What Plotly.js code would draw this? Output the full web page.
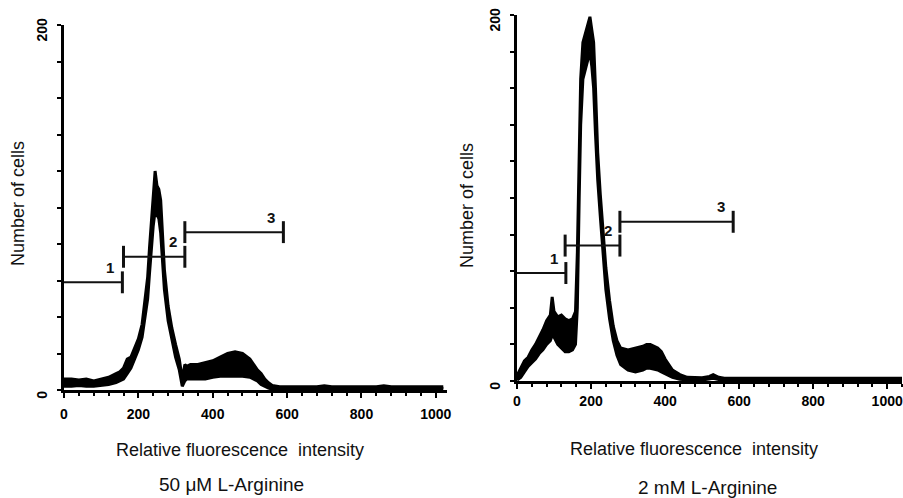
<!DOCTYPE html>
<html>
<head>
<meta charset="utf-8">
<script src="https://cdn.plot.ly/plotly-3.0.1.min.js"></script>
<style>html,body{margin:0;padding:0;background:#fff;}#chart{width:903px;height:498px;}</style>
</head>
<body>
<div id="chart"></div>
<script>
// ---- data: left panel (50 uM L-Arginine); noisy trace read as lower / upper envelope ----
const leftX    = [0,20,40,60,80,100,120,140,150,160,170,180,190,200,210,220,225,230,235,240,245,250,255,260,265,270,280,290,300,310,318,325,330,340,360,380,400,420,440,460,480,500,510,520,530,540,550,560,580,600,620,640,660,680,700,720,740,760,780,800,820,840,860,880,900,920,940,960,980,1000,1020];
const leftLow  = [2,2,2.5,2,2,2.5,3,4,5,6,9,12,17,22,29,42,50,64,80,90,98,96,94,86,70,55,38,27,18,11,2,5,6,6,6,6,7,7.5,7.5,7.5,7.5,7,6,5,3,2,1,0.5,0.5,0.5,0.5,0.5,0.5,0.5,0.8,0.5,0.5,0.5,0.5,0.5,0.5,0.5,0.8,0.5,0.5,0.5,0.5,0.5,0.5,0.5,0.5];
const leftHigh = [6,6,5.5,6,5,6,7,9,10,12,17,18,23,28,36,52,62,78,92,106,120,112,110,104,84,66,46,34,25,17,6,14,13,14,14,15,16,18,20,21,20,17,14,11,9,6,4,2.5,1.8,1.8,2,1.8,1.8,1.8,2.3,1.8,1.8,1.8,1.8,1.8,1.8,1.8,2.3,1.8,1.8,1.8,1.8,1.8,1.8,1.8,1.8];

// ---- data: right panel (2 mM L-Arginine) ----
const rightX    = [0,10,20,30,40,50,60,70,80,90,95,100,110,120,130,140,150,158,163,168,172,178,185,192,197,202,207,212,218,225,232,240,250,260,270,280,300,320,340,350,360,380,390,400,410,420,440,460,500,520,530,545,560,600,640,680,720,760,800,840,880,920,960,1000,1040];
const rightLow  = [0.5,2,5,8,10,12,15,17,20,22,25,24,20,18,16,16,17,20,40,100,140,165,170,175,180,172,160,135,110,90,70,50,34,22,14,9,6,5,6,7,7,6,5,4,3,2,1,0.5,0.5,1,1.5,0.8,0.5,0.5,0.5,0.5,0.5,0.5,0.5,0.5,0.5,0.5,0.5,0.5,0.5];
const rightHigh = [3,7,11,13,17,20,24,28,33,36,46,38,35,36,34,33,34,38,70,130,165,185,190,196,199,192,185,160,125,102,82,62,44,30,22,18,17,18,19,20,20,18,16,12,9,6,3.5,2,1.8,2.5,3.5,2,1.5,1.5,1.5,1.5,1.5,1.5,1.5,1.5,1.5,1.5,1.5,1.5,1.5];

// ---- gate markers ----
const gateLabels = ['1','2','3'];
const leftGateStart = [0,160,325];
const leftGateEnd = [157,325,590];
const leftGateY = [59,73,86.5];
const rightGateStart = [0,130,278];
const rightGateEnd = [132,278,584];
const rightGateY = [59,74,87];
const gateTickHalf = 6;

// ---- axis tick labels ----
const xTickVals = [0,200,400,600,800,1000];
const xTickText = ['0','200','400','600','800','1000'];
const yTickVals = [0,200];
const yTickText = ['0','200'];

const xTitle = 'Relative fluorescence\u00a0 intensity';
const yTitle = 'Number of cells';
const leftCaption = '50 \u03bcM L-Arginine';
const rightCaption = '2 mM L-Arginine';

const FONT = 'Liberation Sans, Arial, Helvetica, sans-serif';

function histTraces(xs, lo, hi, xa, ya) {
  return [
    {x: xs, y: lo, xaxis: xa, yaxis: ya, mode: 'lines', line: {color: '#000', width: 3}, hoverinfo: 'skip', showlegend: false},
    {x: xs, y: hi, xaxis: xa, yaxis: ya, mode: 'lines', fill: 'tonexty', fillcolor: '#000', line: {color: '#000', width: 3}, hoverinfo: 'skip', showlegend: false}
  ];
}

function gateTraces(starts, ends, ys, xa, ya) {
  const hx = [], hy = [], vx = [], vy = [];
  for (let i = 0; i < starts.length; i++) {
    hx.push(starts[i], ends[i], null); hy.push(ys[i], ys[i], null);
    vx.push(ends[i], ends[i], null); vy.push(ys[i]-gateTickHalf, ys[i]+gateTickHalf, null);
    if (starts[i] > 0) { vx.push(starts[i], starts[i], null); vy.push(ys[i]-gateTickHalf, ys[i]+gateTickHalf, null); }
  }
  return [
    {x: hx, y: hy, xaxis: xa, yaxis: ya, mode: 'lines', line: {color: '#111', width: 2}, hoverinfo: 'skip', showlegend: false},
    {x: vx, y: vy, xaxis: xa, yaxis: ya, mode: 'lines', line: {color: '#111', width: 3}, hoverinfo: 'skip', showlegend: false}
  ];
}

function gateAnnots(ends, ys, xr, yr) {
  return ends.map((e, i) => ({
    x: e, y: ys[i], xref: xr, yref: yr, text: gateLabels[i], showarrow: false,
    xanchor: 'center', yanchor: 'middle',
    xshift: -12, yshift: 15, font: {family: FONT, size: 15, color: '#111', weight: 700}
  }));
}

const traces = [
  ...histTraces(leftX, leftLow, leftHigh, 'x', 'y'),
  ...histTraces(rightX, rightLow, rightHigh, 'x2', 'y2'),
  ...gateTraces(leftGateStart, leftGateEnd, leftGateY, 'x', 'y'),
  ...gateTraces(rightGateStart, rightGateEnd, rightGateY, 'x2', 'y2')
];

function xAxis(domain, range, anchor, standoff) {
  return {
    domain: domain, range: range, anchor: anchor,
    showline: true, linewidth: 3, linecolor: '#000', mirror: false,
    showgrid: false, zeroline: false,
    ticks: 'outside', ticklen: 5, tickwidth: 2, tickcolor: '#000',
    tickvals: xTickVals, ticktext: xTickText,
    ticklabelstandoff: standoff,
    tickfont: {family: FONT, size: 14, color: '#000', weight: 700},
    minor: {tickmode: 'linear', tick0: 0, dtick: 40, ticks: 'outside', ticklen: 3, tickwidth: 2, tickcolor: '#000', showgrid: false},
    fixedrange: true
  };
}
function yAxis(domain, anchor) {
  return {
    domain: domain, range: [0, 200], anchor: anchor,
    showline: true, linewidth: 3, linecolor: '#000',
    showgrid: false, zeroline: false,
    ticks: 'outside', ticklen: 4, tickwidth: 2, tickcolor: '#000',
    tickvals: yTickVals, ticktext: yTickText, tickangle: -90,
    ticklabelstandoff: 4, ticklabelshift: 7,
    tickfont: {family: FONT, size: 14, color: '#000', weight: 700},
    minor: {tickmode: 'linear', tick0: 0, dtick: 20, ticks: 'outside', ticklen: 4, tickwidth: 2, tickcolor: '#000', showgrid: false},
    fixedrange: true
  };
}

const titleFont = {family: FONT, size: 18, color: '#111'};
const capFont = {family: FONT, size: 19, color: '#111'};
function paperNote(px, py, text, font, angle) {
  return {xref: 'paper', yref: 'paper', x: px/903, y: 1-py/498, xanchor: 'center', yanchor: 'middle',
          text: text, textangle: angle || 0, showarrow: false, font: font};
}
const annotations = [
  paperNote(18, 204, yTitle, titleFont, -90),
  paperNote(467, 206, yTitle, titleFont, -90),
  paperNote(240, 450, xTitle, titleFont),
  paperNote(694, 449, xTitle, titleFont),
  paperNote(232, 484, leftCaption, capFont),
  paperNote(707, 487, rightCaption, capFont),
  ...gateAnnots(leftGateEnd, leftGateY, 'x', 'y'),
  ...gateAnnots(rightGateEnd, rightGateY, 'x2', 'y2')
];

const layout = {
  width: 903, height: 498,
  margin: {l: 0, r: 0, t: 0, b: 0},
  paper_bgcolor: '#fff', plot_bgcolor: '#fff',
  showlegend: false,
  xaxis: xAxis([64/903, 447/903], [0, 1030], 'y', 4),
  yaxis: yAxis([1-390/498, 1-25/498], 'x'),
  xaxis2: xAxis([517/903, 902/903], [0, 1040], 'y2', 0),
  yaxis2: yAxis([1-381/498, 1-15/498], 'x2'),
  annotations: annotations
};

Plotly.newPlot('chart', traces, layout, {displayModeBar: false, staticPlot: true});
</script>
</body>
</html>
